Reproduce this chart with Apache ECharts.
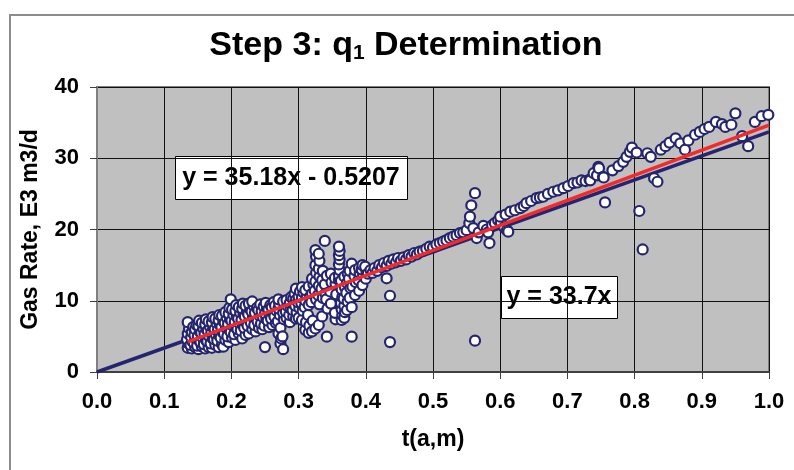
<!DOCTYPE html>
<html>
<head>
<meta charset="utf-8">
<title>Step 3: q1 Determination</title>
<script src="https://cdn.jsdelivr.net/npm/echarts@6/dist/echarts.min.js"></script>
<style>
  html, body { margin: 0; padding: 0; background: #fff; }
  #chart { width: 794px; height: 470px; }
</style>
</head>
<body>
<div id="chart"></div>
<script>
// Gas rate (E3 m3/d) against material-balance time t(a,m)
const rateEarly = [
  [0.135,3.4],[0.136,4.0],[0.134,4.6],[0.135,5.4],[0.137,6.1],[0.135,7.0],
  [0.141,3.3],[0.139,3.8],[0.142,4.3],[0.140,4.9],[0.141,5.6],[0.143,6.3],
  [0.146,3.5],[0.144,4.1],[0.147,4.7],[0.145,5.2],[0.146,6.0],[0.148,6.6],
  [0.151,3.2],[0.149,3.7],[0.152,4.4],[0.150,5.0],[0.153,5.7],[0.151,6.5],[0.152,7.2],
  [0.156,3.6],[0.154,4.2],[0.157,4.8],[0.155,5.5],[0.158,6.1],[0.156,6.9],
  [0.161,3.3],[0.159,3.9],[0.162,4.5],[0.160,5.3],[0.163,6.0],[0.161,6.7],[0.162,7.4],
  [0.166,3.5],[0.164,4.3],[0.167,5.0],[0.165,5.8],[0.168,6.4],[0.166,7.1],
  [0.171,3.4],[0.169,4.0],[0.172,4.7],[0.170,5.5],[0.173,6.2],[0.171,7.0],[0.172,7.7],
  [0.176,3.8],[0.174,4.6],[0.177,5.2],[0.175,6.0],[0.178,6.8],[0.176,7.5],
  [0.181,3.5],[0.179,4.4],[0.182,5.1],[0.180,5.9],[0.183,6.6],[0.181,7.3],[0.182,8.0],
  [0.186,3.9],[0.184,4.8],[0.187,5.6],[0.185,6.3],[0.188,7.1],[0.186,7.9],
  [0.188,3.55],
  [0.191,4.5],[0.189,5.4],[0.192,6.2],[0.190,6.9],[0.193,7.6],[0.191,8.4],
  [0.196,4.2],[0.194,5.0],[0.197,5.9],[0.195,6.7],[0.198,7.4],[0.196,8.2],[0.197,9.0],
  [0.201,4.8],[0.199,5.6],[0.202,6.5],[0.200,7.2],[0.203,8.0],[0.201,8.8],[0.199,10.2],
  [0.206,4.5],[0.204,5.3],[0.207,6.2],[0.205,7.0],[0.208,7.8],[0.206,8.6],[0.207,9.4],
  [0.211,5.4],[0.209,6.0],[0.212,6.8],[0.210,7.5],[0.213,8.3],[0.211,9.1],
  [0.216,4.7],[0.214,5.8],[0.217,6.6],[0.215,7.3],[0.218,8.1],[0.216,8.9],[0.217,9.6],
  [0.221,5.2],[0.219,6.2],[0.222,7.0],[0.220,7.8],[0.223,8.5],[0.221,9.3]
];

const rateMiddle = [
  [0.226,5.4],[0.224,6.5],[0.227,7.3],[0.225,8.1],[0.228,8.8],[0.226,9.6],
  [0.231,6.0],[0.229,6.9],[0.232,7.7],[0.230,8.5],[0.233,9.3],[0.231,9.9],
  [0.236,5.7],[0.234,6.6],[0.237,7.5],[0.235,8.3],[0.238,9.0],
  [0.241,6.2],[0.239,7.1],[0.242,7.9],[0.240,8.7],[0.243,9.5],
  [0.246,6.0],[0.244,6.8],[0.247,7.7],[0.245,8.5],[0.248,9.2],
  [0.250,3.5],[0.249,6.5],[0.252,7.4],[0.250,8.2],[0.253,9.0],[0.251,9.7],
  [0.256,6.3],[0.254,7.2],[0.257,8.0],[0.255,8.8],[0.258,9.4],
  [0.261,6.6],[0.259,7.5],[0.262,8.3],[0.260,9.1],[0.263,9.8],
  [0.266,6.9],[0.264,7.8],[0.267,8.6],[0.265,9.3],
  [0.270,5.4],[0.269,7.1],[0.272,8.0],[0.270,8.9],[0.271,9.6],[0.270,10.2],
  [0.273,4.0],[0.274,4.7],[0.273,6.2],
  [0.277,3.2],[0.276,5.0],[0.278,7.4],[0.277,8.3],[0.279,9.0],[0.277,9.9],
  [0.282,7.6],[0.281,8.5],[0.283,9.3],[0.282,10.1],
  [0.287,7.0],[0.286,8.0],[0.288,8.9],[0.287,9.7],[0.289,10.5],
  [0.292,7.8],[0.291,8.7],[0.293,9.5],[0.292,10.3],[0.294,11.0],
  [0.296,7.5],[0.297,8.4],[0.295,9.3],[0.296,10.1],[0.296,11.7],
  [0.300,7.6],[0.301,9.0],[0.299,9.8],[0.300,10.6],[0.302,11.3],
  [0.305,7.3],[0.306,8.6],[0.304,9.7],[0.305,10.4],[0.307,11.2],[0.305,11.9],
  [0.310,5.9],[0.311,7.0],[0.309,9.1],[0.310,10.0],[0.312,10.8],[0.310,11.5],
  [0.315,5.5],[0.316,6.5],[0.314,8.0],[0.315,9.4],[0.317,10.6],[0.315,12.0],
  [0.320,5.7],[0.321,7.2],[0.319,9.8],[0.320,11.0],[0.322,12.3],[0.320,13.1],
  [0.325,6.1],[0.326,10.2],[0.324,11.4],[0.325,12.7],[0.326,13.9],[0.325,15.0],[0.326,16.2],[0.325,17.1],
  [0.330,6.6],[0.331,9.5],[0.329,10.8],[0.330,12.1],[0.331,13.4],[0.330,14.5],[0.331,15.6],[0.330,16.6],
  [0.335,7.8],[0.336,10.4],[0.334,11.7],[0.335,12.9],[0.336,14.2],
  [0.339,18.4],[0.339,12.3],[0.340,11.0],
  [0.342,4.96],[0.343,8.9],[0.341,10.2],[0.342,13.5],
  [0.348,9.6],[0.347,11.3],[0.349,12.6],[0.348,13.8],
  [0.355,7.4],[0.354,8.3],[0.356,10.9],[0.355,12.4],[0.354,13.2],
  [0.360,12.9],[0.360,13.6],[0.361,14.3],[0.360,15.1],[0.361,15.8],[0.360,16.4],[0.361,17.0],[0.360,17.6],
  [0.364,7.3],[0.365,8.0],[0.364,8.8],[0.363,9.7],[0.365,10.5],[0.364,11.6],[0.363,12.8],
  [0.368,7.6],[0.369,8.4],[0.368,9.3],[0.367,10.3],[0.369,11.9],[0.368,13.4],
  [0.372,8.7],[0.373,9.9],[0.371,11.1],[0.372,12.5],[0.373,13.8],
  [0.376,10.4],[0.377,11.8],[0.375,13.1],[0.376,14.2],
  [0.379,4.96],[0.379,15.2],[0.380,12.0],[0.379,9.1],
  [0.384,10.8],[0.385,12.6],[0.383,13.5],[0.384,14.3],
  [0.390,11.4],[0.389,12.9],[0.391,13.9],[0.390,14.6],
  [0.395,12.2],[0.396,13.6],[0.394,14.4],[0.395,15.0],
  [0.400,13.1],[0.401,14.1],[0.399,14.8]
];

const rateLate = [
  [0.403,13.8],[0.407,14.3],[0.410,13.9],[0.413,14.6],[0.417,14.2],[0.420,15.0],
  [0.424,14.7],[0.427,15.3],[0.431,13.15],[0.431,14.9],[0.434,15.6],[0.436,10.7],
  [0.436,4.2],[0.438,15.2],[0.441,15.8],[0.445,15.4],[0.448,16.0],[0.452,15.6],
  [0.456,16.1],[0.460,15.8],[0.464,16.4],[0.468,16.2],[0.472,16.7],[0.476,16.5],
  [0.480,16.9],[0.485,17.0],[0.490,17.3],[0.495,17.6],[0.500,17.5],[0.505,17.9],
  [0.510,18.1],[0.515,18.3],[0.520,18.5],[0.525,18.8],[0.530,19.0],[0.535,19.2],
  [0.540,19.5],[0.545,19.6],[0.550,19.9],
  [0.554,20.9],[0.555,21.8],[0.557,23.4],[0.5625,25.1],[0.5625,4.4],[0.565,18.8],
  [0.560,20.2],[0.568,19.6],[0.575,20.5],[0.580,20.0],[0.582,19.6],[0.584,18.1],
  [0.588,20.6],[0.592,20.9],[0.597,21.3],[0.601,21.0],[0.606,20.3],[0.610,19.9],
  [0.612,19.7],[0.600,21.8],[0.608,22.1],[0.615,22.5],[0.622,22.7],[0.630,23.0],
  [0.635,23.3],[0.639,23.7],[0.646,24.0],[0.654,24.4],[0.659,24.5],[0.664,24.6],
  [0.671,25.0],[0.679,25.3],[0.686,25.5],[0.694,25.8],[0.701,26.1],[0.709,26.5],
  [0.715,26.6],[0.721,26.9],[0.727,26.8],[0.733,27.0],[0.734,26.9],[0.739,27.9],
  [0.744,27.6],[0.746,28.8],[0.747,28.6],[0.753,27.4],[0.754,27.3],[0.756,23.8],
  [0.767,28.3],[0.776,28.9],[0.783,29.5],[0.788,30.2],[0.793,30.9],[0.796,31.5],
  [0.803,30.8],[0.807,22.6],[0.812,17.2],[0.819,30.7],[0.824,30.2],[0.829,27.2],
  [0.834,26.7],[0.839,31.2],[0.846,31.7],[0.852,32.2],[0.861,32.8],[0.868,32.1],
  [0.875,31.2],[0.880,32.5],[0.890,33.3],[0.897,33.7],[0.904,34.1],[0.911,34.4],
  [0.921,35.1],[0.930,34.8],[0.935,34.4],[0.944,34.7],[0.950,36.3],[0.960,33.1],
  [0.969,31.7],[0.979,35.1],[0.989,35.9],[0.999,36.1]
];

// Trend lines: fitted through the origin, and ordinary least squares
const originSlope = 33.7;
const fitSlope = 35.18;
const fitIntercept = -0.5207;
const fitStartT = 0.135;

const tTicks = [0, 0.1, 0.2, 0.3, 0.4, 0.5, 0.6, 0.7, 0.8, 0.9, 1.0];
const rateTicks = [0, 10, 20, 30, 40];

const FONT = 'Liberation Sans, Arial, sans-serif';
const NAVY = '#25256f';
const RED = '#f42a2a';

const originLine = [[0, 0], [1, originSlope * 1]];
const fitLine = [
  [fitStartT, fitSlope * fitStartT + fitIntercept],
  [1, fitSlope * 1 + fitIntercept]
];

const chart = echarts.init(document.getElementById('chart'), null, { renderer: 'canvas' });

const labelStyle = { fontFamily: FONT, fontSize: 22, fontWeight: 'bold', color: '#000' };
const nameStyle = { fontFamily: FONT, fontSize: 23, fontWeight: 'bold', color: '#000' };

chart.setOption({
  animation: false,
  backgroundColor: '#ffffff',
  grid: {
    left: 97, right: 25, top: 87, bottom: 98,
    show: true,
    backgroundColor: '#c0c0c0',
    borderColor: '#808080',
    borderWidth: 2
  },
  xAxis: {
    type: 'value',
    min: tTicks[0],
    max: tTicks[tTicks.length - 1],
    interval: 0.1,
    axisLine: { show: true, onZero: false, lineStyle: { color: '#404040', width: 2 } },
    axisTick: { show: true, length: 7, lineStyle: { color: '#404040', width: 1 } },
    splitLine: { show: true, lineStyle: { color: '#111', width: 1 } },
    axisLabel: Object.assign({ margin: 19, formatter: v => v.toFixed(1) }, labelStyle),
    name: 't(a,m)',
    nameLocation: 'middle',
    nameGap: 56,
    nameTextStyle: nameStyle
  },
  yAxis: {
    type: 'value',
    min: rateTicks[0],
    max: rateTicks[rateTicks.length - 1],
    interval: 10,
    axisLine: { show: true, onZero: false, lineStyle: { color: '#808080', width: 2 } },
    axisTick: { show: true, length: 7, lineStyle: { color: '#404040', width: 1 } },
    splitLine: { show: true, lineStyle: { color: '#111', width: 1 } },
    axisLabel: Object.assign({ margin: 18 }, labelStyle),
    name: 'Gas Rate, E3 m3/d',
    nameLocation: 'middle',
    nameGap: 55,
    nameTextStyle: nameStyle
  },
  series: [
    {
      name: 'y = 33.7x',
      type: 'line',
      data: originLine,
      showSymbol: false,
      symbol: 'none',
      lineStyle: { color: NAVY, width: 3.5 },
      z: 2
    },
    {
      name: 'Gas rate',
      type: 'scatter',
      data: rateEarly.concat(rateMiddle, rateLate),
      symbol: 'circle',
      symbolSize: 10,
      itemStyle: { color: '#ffffff', borderColor: NAVY, borderWidth: 2.2, opacity: 1 },
      z: 3
    },
    {
      name: 'y = 35.18x - 0.5207',
      type: 'line',
      data: fitLine,
      showSymbol: false,
      symbol: 'none',
      lineStyle: { color: RED, width: 3.5 },
      z: 4
    }
  ],
  graphic: [
    // outer frame of the chart sheet
    {
      type: 'polyline',
      shape: { points: [[10, 470], [10, 15], [794, 15]] },
      style: { stroke: '#8c8c8c', lineWidth: 2, fill: null },
      z: 10
    },
    {
      type: 'text',
      style: {
        x: 406, y: 46,
        text: '{a|Step 3: q}{s|1}{a| Determination}',
        align: 'center',
        verticalAlign: 'middle',
        rich: {
          a: { fontFamily: FONT, fontSize: 34, fontWeight: 'bold', fill: '#000' },
          s: { fontFamily: FONT, fontSize: 21, fontWeight: 'bold', fill: '#000', padding: [14, 0, 0, 0] }
        }
      },
      z: 10
    },
    {
      type: 'group',
      z: 10,
      children: [
        {
          type: 'rect',
          shape: { x: 175.5, y: 156.5, width: 232, height: 43 },
          style: { fill: '#fff', stroke: '#000', lineWidth: 1 }
        },
        {
          type: 'text',
          style: {
            x: 291, y: 178.5,
            text: 'y = 35.18x - 0.5207',
            align: 'center', verticalAlign: 'middle',
            font: 'bold 25px ' + FONT,
            fill: '#000'
          }
        },
        {
          type: 'rect',
          shape: { x: 501.5, y: 276.5, width: 116, height: 42 },
          style: { fill: '#fff', stroke: '#000', lineWidth: 1 }
        },
        {
          type: 'text',
          style: {
            x: 559, y: 297.5,
            text: 'y = 33.7x',
            align: 'center', verticalAlign: 'middle',
            font: 'bold 25px ' + FONT,
            fill: '#000'
          }
        }
      ]
    }
  ]
});
</script>
</body>
</html>
